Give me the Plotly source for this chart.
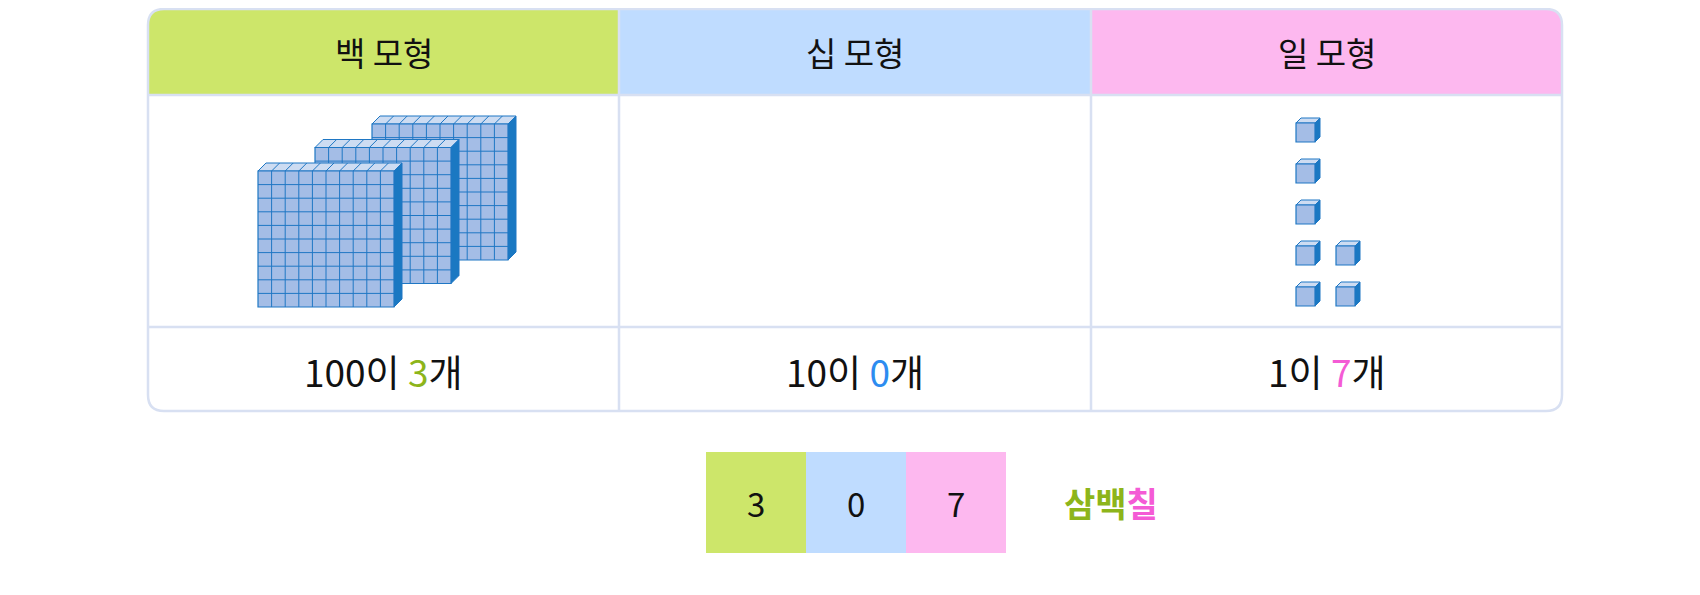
import plotly.graph_objects as go

# 자릿값 데이터
headers = ["백 모형", "십 모형", "일 모형"]
place_values = [100, 10, 1]
digits = [3, 0, 7]
digit_colors = ["#8db51a", "#2d8cf0", "#f45bd5"]
header_colors = ["#cde66a", "#bfdcff", "#fdb8ef"]
number_word = ["삼", "백", "칠"]
word_colors = ["#8db51a", "#8db51a", "#f45bd5"]

W, H = 1700, 595
border = "#d8e0f2"
edge = "#1f77c4"
face = "#a4bde6"
top_c = "#cddcf2"
side_c = "#1a78c2"
FONT = "Noto Sans CJK KR"

L, R, T, B = 140, 1554, 1, 403
col_x = [L, 611, 1083, R]
row1, row2 = 87, 319
rad = 16

shapes = []
annos = []


def rect_path(x0, y0, x1, y1):
    return f"M{x0},{y0} L{x1},{y0} L{x1},{y1} L{x0},{y1} Z"


# 헤더 배경 (위쪽 모서리 둥글게)
for i, c in enumerate(header_colors):
    x0, x1 = col_x[i], col_x[i + 1]
    if i == 0:
        p = f"M{x0},{row1} L{x0},{T+rad} Q{x0},{T} {x0+rad},{T} L{x1},{T} L{x1},{row1} Z"
    elif i == 2:
        p = f"M{x0},{row1} L{x0},{T} L{x1-rad},{T} Q{x1},{T} {x1},{T+rad} L{x1},{row1} Z"
    else:
        p = rect_path(x0, T, x1, row1)
    shapes.append(dict(type="path", path=p, fillcolor=c, line=dict(width=0), layer="below"))
    annos.append(dict(x=(x0 + x1) / 2, y=(T + row1) / 2, text=headers[i], showarrow=False,
                      font=dict(size=33, color="#111", family=FONT)))

# 표 테두리
outline = (f"M{L+rad},{T} L{R-rad},{T} Q{R},{T} {R},{T+rad} L{R},{B-rad} Q{R},{B} {R-rad},{B} "
           f"L{L+rad},{B} Q{L},{B} {L},{B-rad} L{L},{T+rad} Q{L},{T} {L+rad},{T} Z")
shapes.append(dict(type="path", path=outline, line=dict(color=border, width=2.5)))
for x in col_x[1:3]:
    shapes.append(dict(type="line", x0=x, x1=x, y0=T, y1=B, line=dict(color=border, width=2.5)))
for y in [row1, row2]:
    shapes.append(dict(type="line", x0=L, x1=R, y0=y, y1=y, line=dict(color=border, width=2.5)))

# 셋째 줄 텍스트
for i in range(3):
    x0, x1 = col_x[i], col_x[i + 1]
    txt = f"{place_values[i]}이 <span style='color:{digit_colors[i]}'>{digits[i]}</span>개"
    annos.append(dict(x=(x0 + x1) / 2, y=(row2 + B) / 2 + 2, text=txt, showarrow=False,
                      font=dict(size=37, color="#111", family=FONT)))


def cube(x, y, s, d, grid=1):
    """정면 왼쪽 위 (x,y), 크기 s, 깊이 d"""
    out = []
    out.append(dict(type="path", path=f"M{x},{y} L{x+d},{y-d} L{x+s+d},{y-d} L{x+s},{y} Z",
                    fillcolor=top_c, line=dict(color=edge, width=1)))
    out.append(dict(type="path", path=f"M{x+s},{y} L{x+s+d},{y-d} L{x+s+d},{y+s-d} L{x+s},{y+s} Z",
                    fillcolor=side_c, line=dict(color=edge, width=1)))
    out.append(dict(type="path", path=rect_path(x, y, x + s, y + s),
                    fillcolor=face, line=dict(color=edge, width=1.2)))
    c = s / grid
    for k in range(1, grid):
        out.append(dict(type="line", x0=x + k * c, x1=x + k * c, y0=y, y1=y + s,
                        line=dict(color=edge, width=1)))
        out.append(dict(type="line", x0=x, x1=x + s, y0=y + k * c, y1=y + k * c,
                        line=dict(color=edge, width=1)))
        out.append(dict(type="line", x0=x + k * c, x1=x + k * c + d, y0=y, y1=y - d,
                        line=dict(color=edge, width=1)))
    return out


# 백 모형 (뒤에서 앞으로)
for j in reversed(range(digits[0])):
    shapes += cube(250 + 57 * j, 163 - 23.5 * j, 136, 8, grid=10)

# 일 모형: 5개씩 세로로
for k in range(digits[2]):
    col, row = divmod(k, 5)
    shapes += cube(1288 + 40 * col, 279 - 41 * row, 19, 5)

# 아래 숫자 칸
bx0, bw, by0, by1 = 698, 100, 444, 545
for i in range(3):
    shapes.append(dict(type="rect", x0=bx0 + i * bw, x1=bx0 + (i + 1) * bw, y0=by0, y1=by1,
                       fillcolor=header_colors[i], line=dict(width=0), layer="below"))
    annos.append(dict(x=bx0 + (i + 0.5) * bw, y=(by0 + by1) / 2, text=str(digits[i]), showarrow=False,
                      font=dict(size=33, color="#111", family=FONT)))
word = "".join(f"<span style='color:{c}'>{w}</span>" for w, c in zip(number_word, word_colors))
annos.append(dict(x=1103, y=(by0 + by1) / 2, text=f"<b>{word}</b>", showarrow=False,
                  font=dict(size=34, family=FONT)))

fig = go.Figure()
fig.update_layout(
    width=W, height=H, margin=dict(l=0, r=0, t=0, b=0),
    paper_bgcolor="white", plot_bgcolor="white",
    xaxis=dict(range=[0, W], visible=False, fixedrange=True),
    yaxis=dict(range=[H, 0], visible=False, fixedrange=True),
    shapes=shapes, annotations=annos, showlegend=False,
)
fig.write_html("out.html")
